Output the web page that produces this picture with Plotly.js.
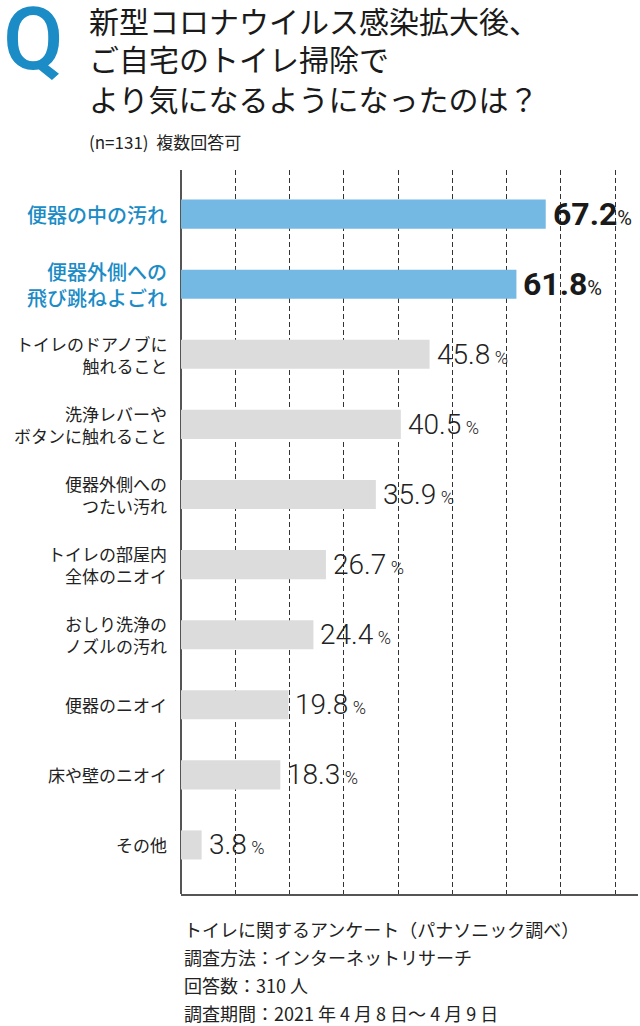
<!DOCTYPE html>
<html>
<head>
<meta charset="utf-8">
<script src="https://cdn.plot.ly/plotly-3.0.1.min.js"></script>
<style>html,body{margin:0;padding:0;background:#fff;}#chart{width:640px;height:1026px;}</style>
</head>
<body>
<div id="chart"></div>
<script>
// ---- data ----
const categories = [
  "便器の中の汚れ",
  "便器外側への<br>飛び跳ねよごれ",
  "トイレのドアノブに<br>触れること",
  "洗浄レバーや<br>ボタンに触れること",
  "便器外側への<br>つたい汚れ",
  "トイレの部屋内<br>全体のニオイ",
  "おしり洗浄の<br>ノズルの汚れ",
  "便器のニオイ",
  "床や壁のニオイ",
  "その他"
];
const values = [67.2, 61.8, 45.8, 40.5, 35.9, 26.7, 24.4, 19.8, 18.3, 3.8];
const highlighted = [true, true, false, false, false, false, false, false, false, false];
const titleLines = [
  "新型コロナウイルス感染拡大後、",
  "ご自宅のトイレ掃除で",
  "より気になるようになったのは？"
];
const subtitle = "(n=131)&nbsp;&nbsp;複数回答可";
const footerLines = [
  "トイレに関するアンケート（パナソニック調べ）",
  "調査方法：インターネットリサーチ",
  "回答数：310 人",
  "調査期間：2021 年 4 月 8 日～ 4 月 9 日"
];

// ---- styles ----
const BLUE = "#1b8cc6";
const BAR_BLUE = "#74b8e4";
const BAR_GRAY = "#dcdcdc";
const JP = "Noto Sans CJK JP";
const NUM = "Roboto";

const ids = categories.map((c, i) => "c" + i);

const trace = {
  type: "bar",
  orientation: "h",
  y: ids,
  x: values,
  marker: { color: highlighted.map(h => h ? BAR_BLUE : BAR_GRAY), line: { width: 0 } },
  hoverinfo: "skip"
};

const annotations = [];

// category labels
categories.forEach((c, i) => {
  annotations.push({
    xref: "paper", yref: "y", x: 0, y: ids[i], xshift: -13,
    xanchor: "right", yanchor: "middle", align: "right", showarrow: false, borderpad: 0,
    text: c,
    font: highlighted[i]
      ? { family: JP, size: 20, color: BLUE, weight: 500 }
      : { family: JP, size: 17, color: "#222", weight: 400 }
  });
});

// value labels
values.forEach((v, i) => {
  const hi = highlighted[i];
  annotations.push({
    xref: "x", yref: "y", x: v, y: ids[i], xshift: 6,
    xanchor: "left", yanchor: "middle", showarrow: false, borderpad: 0,
    text: hi
      ? "<b>" + v.toFixed(1) + "</b><span style='font-size:20px'>%</span>"
      : v.toFixed(1) + "<span style='font-size:18px'> %</span>",
    font: hi
      ? { family: NUM, size: 32, color: "#1a1a1a", weight: 400 }
      : { family: NUM, size: 28, color: "#222", weight: 300 }
  });
});

// Q mark
annotations.push({
  xref: "paper", yref: "paper", x: 0, y: 1, xshift: -181 + 33, yshift: 170 - 38,
  xanchor: "center", yanchor: "middle", showarrow: false, borderpad: 0,
  text: "Q",
  font: { family: "Roboto", size: 88, color: BLUE, weight: 500 }
});

// Title lines
const titleY = [20, 58, 98];
titleLines.forEach((t, i) => {
  annotations.push({
    xref: "paper", yref: "paper", x: 0, y: 1, xshift: 88 - 181, yshift: 170 - titleY[i],
    xanchor: "left", yanchor: "middle", showarrow: false, borderpad: 0,
    text: t,
    font: { family: JP, size: 30, color: "#1a1a1a" }
  });
});
annotations.push({
  xref: "paper", yref: "paper", x: 0, y: 1, xshift: 88 - 181, yshift: 170 - 141,
  xanchor: "left", yanchor: "middle", showarrow: false, borderpad: 0,
  text: subtitle,
  font: { family: JP, size: 17, color: "#222" }
});

// Footer lines
const footY = [929, 957, 985, 1013];
footerLines.forEach((t, i) => {
  annotations.push({
    xref: "paper", yref: "paper", x: 0, y: 0, xshift: 183 - 181, yshift: 894 - footY[i],
    xanchor: "left", yanchor: "middle", showarrow: false, borderpad: 0,
    text: t,
    font: { family: JP, size: 18, color: "#222" }
  });
});

const layout = {
  width: 640, height: 1026,
  margin: { l: 181, r: 2, t: 170, b: 132, pad: 0 },
  paper_bgcolor: "#fff", plot_bgcolor: "#fff",
  showlegend: false,
  bargap: 0.585,
  xaxis: {
    range: [0, 84.2], autorange: false, fixedrange: true,
    showgrid: true, dtick: 10, tick0: 0, gridcolor: "#333", gridwidth: 1, griddash: "5px,3px",
    zeroline: true, zerolinecolor: "#555", zerolinewidth: 1.5,
    showline: true, linecolor: "#555", linewidth: 1.5,
    showticklabels: false, ticks: ""
  },
  yaxis: {
    type: "category", categoryarray: ids, categoryorder: "array",
    range: [9.70, -0.63], autorange: false, fixedrange: true,
    showgrid: false, zeroline: false, showline: false, showticklabels: false, ticks: ""
  },
  annotations: annotations
};

Plotly.newPlot("chart", [trace], layout, { displayModeBar: false, staticPlot: true });
</script>
</body>
</html>
